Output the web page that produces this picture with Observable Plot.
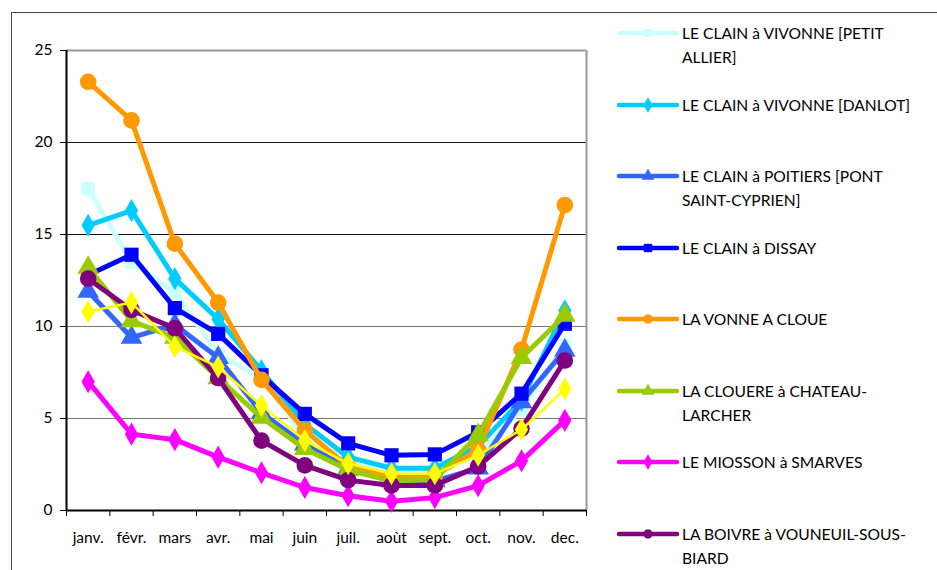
<!DOCTYPE html>
<html><head><meta charset="utf-8">
<script src="https://cdn.jsdelivr.net/npm/d3@7"></script>
<script src="https://cdn.jsdelivr.net/npm/@observablehq/plot@0.6"></script>
<style>
body{margin:0;background:#fff;font-family:Lato,sans-serif;}
#wrap{position:relative;width:937px;height:570px;overflow:hidden;background:#fff;}
#border{position:absolute;left:11px;top:12px;width:1000px;height:1000px;border:1.5px solid #444;box-sizing:border-box;}
#chart{position:absolute;left:0;top:0;}
#legend{position:absolute;left:616px;top:21px;}
.item{display:flex;align-items:flex-start;height:71.5px;}
.item svg{flex:none;}
.item span{font-size:15.6px;line-height:24px;color:#000;width:240px;margin-left:2px;}
</style></head><body>
<div id="wrap"><div id="border"></div><div id="chart"></div><div id="legend"></div></div>
<script>
const months = ["janv.","févr.","mars","avr.","mai","juin","juil.","aoùt","sept.","oct.","nov.","dec."];
const yTicks = [0,5,10,15,20,25];

const names = [
  "LE CLAIN à VIVONNE [PETIT ALLIER]",
  "LE CLAIN à VIVONNE [DANLOT]",
  "LE CLAIN à POITIERS [PONT SAINT-CYPRIEN]",
  "LE CLAIN à DISSAY",
  "LA VONNE A CLOUE",
  "LA CLOUERE à CHATEAU-LARCHER",
  "LE MIOSSON à SMARVES",
  "LA BOIVRE à VOUNEUIL-SOUS-BIARD",
  ""
];
const petitAllier = [17.5, 13.5, 11.85, 8.5, 7.2, 4.0, 2.7, 2.1, 2.1, 3.0, 5.5, 9.0];
const danlot      = [15.5, 16.3, 12.6, 10.4, 7.6, 4.7, 2.9, 2.3, 2.3, 3.5, 6.0, 10.85];
const poitiers    = [11.9, 9.4, 10.1, 8.3, 5.3, 3.6, 2.3, 1.6, 1.6, 2.3, 5.9, 8.7];
const dissay      = [12.8, 13.9, 11.0, 9.6, 7.35, 5.25, 3.65, 3.0, 3.05, 4.25, 6.35, 10.15];
const vonne       = [23.3, 21.2, 14.5, 11.3, 7.1, 4.35, 2.4, 1.8, 1.9, 3.3, 8.75, 16.6];
const clouere     = [13.2, 10.3, 9.4, 7.2, 5.05, 3.35, 2.2, 1.6, 1.7, 4.1, 8.3, 10.6];
const miosson     = [7.0, 4.15, 3.85, 2.9, 2.05, 1.25, 0.8, 0.5, 0.7, 1.35, 2.7, 4.9];
const boivre      = [12.6, 10.9, 9.9, 7.2, 3.8, 2.45, 1.65, 1.36, 1.36, 2.4, 4.45, 8.15];
const jaune       = [10.8, 11.3, 8.9, 7.8, 5.7, 3.8, 2.55, 2.0, 2.0, 3.0, 4.4, 6.6];

const values  = [petitAllier, danlot, poitiers, dissay, vonne, clouere, miosson, boivre, jaune];
const colors  = ["#ccffff","#00ccff","#3366ff","#0000ff","#ff9900","#99cc00","#ff00ff","#800080","#ffff00"];
const symbols = ["square","diamond","triangle","square","circle","triangle","diamond","circle","diamond"];
const radii   = [7.5, 7, 8, 8, 8.3, 8, 7, 8.3, 7];
const widths  = [5, 5, 5, 5, 5, 5, 5, 5, 2.5];

const seriesMarks = [];
values.forEach((vals, k) => {
  const rows = vals.map((v, i) => ({i: i + 0.5, v, name: names[k]}));
  seriesMarks.push(Plot.line(rows, {x: "i", y: "v", stroke: colors[k], strokeWidth: widths[k], strokeLinejoin: "round"}));
  seriesMarks.push(Plot.dot(rows, {x: "i", y: "v", fill: colors[k], symbol: symbols[k], r: radii[k]}));
});

const chart = Plot.plot({
  width: 600, height: 570,
  marginLeft: 66, marginRight: 14, marginTop: 50, marginBottom: 60,
  style: {fontFamily: "Lato, sans-serif", fontSize: "15.5px", color: "#000", background: "transparent", overflow: "visible"},
  x: {type: "linear", domain: [0, 12]},
  y: {domain: [0, 25]},
  marks: [
    Plot.ruleY([15, 20], {stroke: "#111", strokeWidth: 1}),
    Plot.ruleY([5, 10], {stroke: "#777", strokeWidth: 1.2}),
    Plot.ruleY([25], {stroke: "#999", strokeWidth: 2}),
    Plot.ruleX([12], {stroke: "#999", strokeWidth: 2}),
    Plot.axisY({ticks: yTicks, tickSize: 6, tickPadding: 8, label: null}),
    Plot.axisX({ticks: d3.range(13), tickSize: 6, tickFormat: () => "", label: null}),
    Plot.axisX({ticks: months.map((m, i) => i + 0.5), tickFormat: d => months[Math.floor(d)], tickSize: 0, tickPadding: 21, label: null}),
    Plot.ruleX([0], {stroke: "#000", strokeWidth: 2}),
    Plot.ruleY([0], {stroke: "#000", strokeWidth: 2}),
    ...seriesMarks
  ]
});
document.getElementById("chart").appendChild(chart);

// legend (first eight series, as in the reference)
const legend = d3.select("#legend");
names.slice(0, 8).forEach((n, k) => {
  const item = legend.append("div").attr("class", "item");
  const svg = item.append("svg").attr("width", 64).attr("height", 24);
  svg.append("line").attr("x1", 3).attr("x2", 61).attr("y1", 12).attr("y2", 12)
    .attr("stroke", colors[k]).attr("stroke-width", 4.5).attr("stroke-linecap", "round");
  const sym = {square: d3.symbolSquare, diamond: d3.symbolDiamond, triangle: d3.symbolTriangle, circle: d3.symbolCircle}[symbols[k]];
  svg.append("path").attr("d", d3.symbol(sym, 70)()).attr("transform", "translate(32,12)").attr("fill", colors[k]);
  item.append("span").text(n);
});
</script>
</body></html>
